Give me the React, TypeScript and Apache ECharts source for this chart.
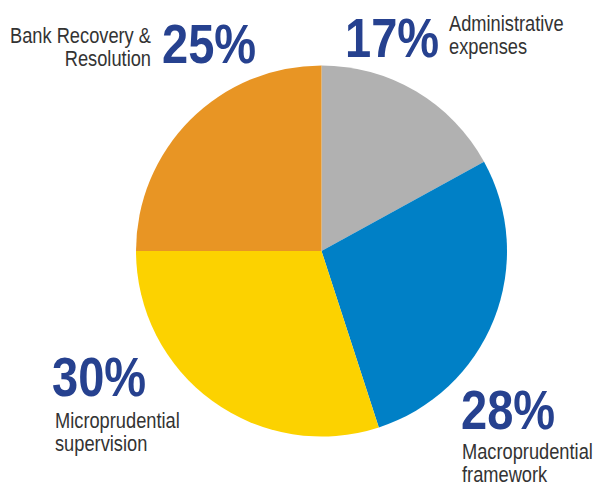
import React, { useEffect, useRef } from "react";
import * as echarts from "echarts";

// Budget shares, clockwise from 12 o'clock
const categories = [
  "Administrative\nexpenses",
  "Macroprudential\nframework",
  "Microprudential\nsupervision",
  "Bank Recovery &\nResolution",
];
const shares = [17, 28, 30, 25];
const sliceColors = ["#b1b1b1", "#0080c6", "#fcd200", "#e89524"];

// Where each label block sits: [percent x, percent y, name x, name y, name align]
const labelSpots: [number, number, number, number, "left" | "right"][] = [
  [345, 38, 449, 35, "left"],
  [461, 410, 462, 463, "left"],
  [52, 377, 55, 432, "left"],
  [162, 44, 151, 47, "right"],
];

const NAVY = "#26418f";
const TEXT = "#333333";
const FONT = "'Liberation Sans', Arial, sans-serif";

export default function App() {
  const ref = useRef<HTMLDivElement>(null);

  useEffect(() => {
    if (!ref.current) return;
    const chart = echarts.init(ref.current, null, { renderer: "svg" });

    const graphics: any[] = [];
    shares.forEach((v, i) => {
      const [px, py, nx, ny, align] = labelSpots[i];
      graphics.push({
        type: "text",
        x: px,
        y: py,
        scaleX: 0.84,
        style: {
          text: `${v}%`,
          fill: NAVY,
          font: `bold 56px ${FONT}`,
          align: "left",
          verticalAlign: "middle",
        },
      });
      graphics.push({
        type: "text",
        x: nx,
        y: ny,
        scaleX: 0.83,
        style: {
          text: categories[i],
          fill: TEXT,
          font: `22px ${FONT}`,
          lineHeight: 23,
          align,
          verticalAlign: "middle",
        },
      });
    });

    chart.setOption({
      animation: false,
      series: [
        {
          type: "pie",
          center: [321.5, 251],
          radius: [0, 185.5],
          startAngle: 90,
          clockwise: true,
          label: { show: false },
          labelLine: { show: false },
          itemStyle: { borderWidth: 0 },
          emphasis: { disabled: true },
          data: shares.map((v, i) => ({
            value: v,
            name: categories[i],
            itemStyle: { color: sliceColors[i] },
          })),
        },
      ],
      graphic: graphics,
    });

    return () => chart.dispose();
  }, []);

  return (
    <div
      ref={ref}
      style={{ position: "absolute", left: 0, top: 0, width: 603, height: 484, background: "#fff" }}
    />
  );
}
